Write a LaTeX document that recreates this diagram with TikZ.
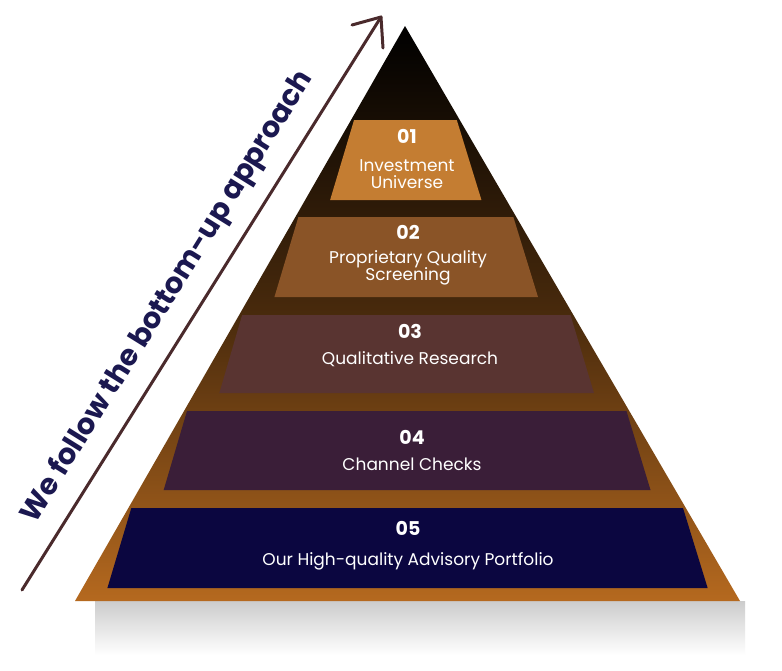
\documentclass[tikz,border=0pt]{standalone}
\usepackage{fontspec}
\setmainfont{Poppins}
\begin{document}
\begin{tikzpicture}[x=1pt,y=-1pt,
  num/.style={text=white,font=\fontsize{19}{21}\selectfont\bfseries},
  lab/.style={text=white,font=\fontsize{17}{20}\selectfont,align=center}]
\definecolor{orng}{HTML}{B5691F}
\definecolor{c1}{HTML}{C47D32}
\definecolor{c2}{HTML}{8A5427}
\definecolor{c3}{HTML}{593431}
\definecolor{c4}{HTML}{3A1E38}
\definecolor{c5}{HTML}{0B0640}
\definecolor{arr}{HTML}{4A2A2C}
\definecolor{navy}{HTML}{1B1850}
\useasboundingbox (0,0) rectangle (782,670);
\fill[white] (0,0) rectangle (782,670);
% shadow
\shade[top color=gray!40,bottom color=white] (95,601) rectangle (745,655);
% outer triangle
\shade[top color=black,bottom color=orng,middle color=black!60!orng] (405,26) -- (740,601) -- (75,601) -- cycle;
% bands
\newcommand{\band}[3]{%
  \pgfmathsetmacro{\lt}{405-0.574*(#1-26)+3}%
  \pgfmathsetmacro{\rt}{405+0.583*(#1-26)-3}%
  \pgfmathsetmacro{\lb}{405-0.574*(#2-26)+25}%
  \pgfmathsetmacro{\rb}{405+0.583*(#2-26)-25}%
  \fill[#3] (\lt,#1) -- (\rt,#1) -- (\rb,#2) -- (\lb,#2) -- cycle;}
\band{120}{200}{c1}
\band{217}{297}{c2}
\band{315}{393}{c3}
\band{411}{490}{c4}
\band{508}{588}{c5}
\node[num] (n1) at (407,136) {01};
\node[lab] (l1) at (407,174) {Investment\\[-3pt]Universe};
\node[num] (n2) at (408,232) {02};
\node[lab] (l2) at (408,268) {Proprietary Quality\\[-3pt]Screening};
\node[num] (n3) at (410,331) {03};
\node[lab] (l3) at (410,359) {Qualitative Research};
\node[num] (n4) at (412,437) {04};
\node[lab] (l4) at (412,464) {Channel Checks};
\node[num] (n5) at (408,528) {05};
\node[lab] (l5) at (408,561) {Our High-quality Advisory Portfolio};
% arrow
\coordinate (a0) at (22,590);
\coordinate (a1) at (381,17);
\draw[arr,line width=3pt,line cap=round] (a0) -- (a1);
\draw[arr,line width=3pt,line cap=round,line join=round] (352,25) -- (381,17) -- (383,48);
\node[rotate=58.1,text=navy,font=\fontsize{29}{32}\selectfont\bfseries] (t) at (168,297) {We follow the bottom-up approach};
\end{tikzpicture}
\end{document}
